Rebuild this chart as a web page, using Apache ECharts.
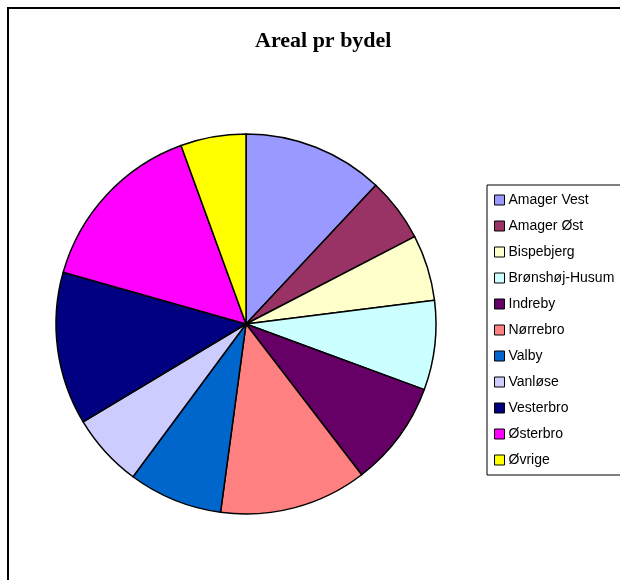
<!DOCTYPE html>
<html>
<head>
<meta charset="utf-8">
<script src="https://cdn.jsdelivr.net/npm/echarts@6/dist/echarts.min.js"></script>
<style>
  html, body { margin: 0; padding: 0; background: #fff; }
  #chart { width: 620px; height: 580px; }
</style>
</head>
<body>
<div id="chart"></div>
<script>
    // bydele og deres andel (aflæst som grader af cirklen)
    var bydele = ["Amager Vest", "Amager Øst", "Bispebjerg", "Brønshøj-Husum", "Indreby",
                  "Nørrebro", "Valby", "Vanløse", "Vesterbro", "Østerbro", "Øvrige"];
    var areal = [43.1, 19.5, 20.2, 27.4, 32.3, 45.2, 28.8, 22.5, 46.8, 54.2, 20.0];
    var farver = ["#9999FF", "#993366", "#FFFFCC", "#CCFFFF", "#660066",
                  "#FF8080", "#0066CC", "#CCCCFF", "#000080", "#FF00FF", "#FFFF00"];

    var myChart = echarts.init(document.getElementById('chart'));

    var data = [];
    for (var i = 0; i < bydele.length; i++) {
        data.push({value: areal[i], name: bydele[i], itemStyle: {color: farver[i]}});
    }

    var option = {
        animation: false,
        title: {
            text: 'Areal pr bydel',
            left: 250,
            top: 25,
            textStyle: {
                fontFamily: 'Liberation Serif',
                fontWeight: 'bold',
                fontSize: 22,
                color: '#000'
            }
        },
        graphic: [{
            type: 'rect',
            shape: {x: 8, y: 8, width: 700, height: 700},
            style: {fill: 'none', stroke: '#000', lineWidth: 2},
            silent: true
        }],
        legend: {
            orient: 'vertical',
            left: 487,
            top: 185,
            padding: [8, 14, 8, 7],
            borderColor: '#000',
            borderWidth: 1,
            itemWidth: 10,
            itemHeight: 10,
            itemGap: 12,
            icon: 'rect',
            itemStyle: {borderColor: '#000', borderWidth: 1},
            textStyle: {
                fontFamily: 'Liberation Sans',
                fontSize: 14,
                lineHeight: 14,
                color: '#000',
                padding: [0, 0, 0, -1]
            },
            data: bydele
        },
        series: [{
            name: 'Areal',
            type: 'pie',
            center: [246, 324],
            radius: 190,
            startAngle: 90,
            clockwise: true,
            label: {show: false},
            labelLine: {show: false},
            itemStyle: {borderColor: '#000', borderWidth: 1.5},
            emphasis: {disabled: true},
            data: data
        }]
    };

    myChart.setOption(option);
</script>
</body>
</html>
